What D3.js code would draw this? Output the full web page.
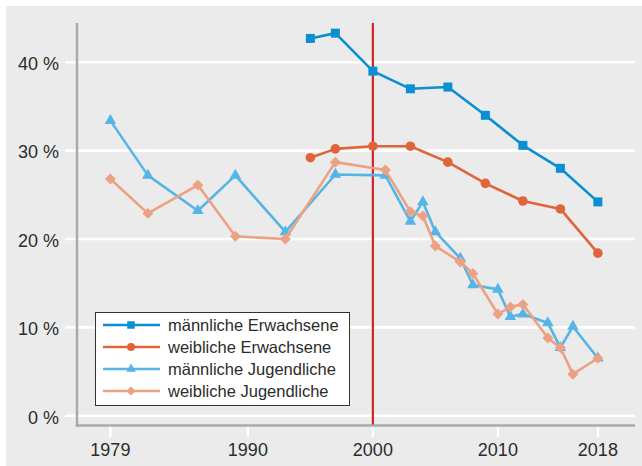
<!DOCTYPE html>
<html><head><meta charset="utf-8">
<script src="https://cdn.jsdelivr.net/npm/d3@7"></script>
<style>html,body{margin:0;padding:0;background:#fff;}svg{display:block;}</style>
</head><body>
<svg id="c" width="642" height="466"></svg>
<script>
const seriesNames = ["männliche Erwachsene","weibliche Erwachsene","männliche Jugendliche","weibliche Jugendliche"];
const adultYears = [1995,1997,2000,2003,2006,2009,2012,2015,2018];
const maleAdults = [42.7,43.3,39.0,37.0,37.2,34.0,30.6,28.0,24.2];
const femaleAdults = [29.2,30.2,30.5,30.5,28.7,26.3,24.3,23.4,18.4];
const youthYears = [1979,1982,1986,1989,1993,1997,2001,2003,2004,2005,2007,2008,2010,2011,2012,2014,2015,2016,2018];
const maleYouth = [33.4,27.2,23.2,27.2,20.8,27.3,27.2,22.0,24.2,20.8,17.8,14.8,14.3,11.2,11.5,10.5,7.7,10.1,6.5];
const femaleYouth = [26.8,22.9,26.1,20.3,20.0,28.7,27.8,23.1,22.6,19.2,17.4,16.1,11.5,12.3,12.6,8.8,7.7,4.7,6.5];
const xTicks = [1979,1990,2000,2010,2018];
const yTicks = [0,10,20,30,40];
const markerYear = 2000;

const svg = d3.select("#c");
const font = "'Liberation Sans', Arial, sans-serif";
const textColor = "#2b2b2b";

svg.append("rect").attr("x",6).attr("y",6).attr("width",636).attr("height",460).attr("fill","#ebebeb");

const x = d3.scaleLinear().domain([1976.25, 2020.75]).range([76, 632.25]);
const y = d3.scaleLinear().domain([0, 40]).range([415.7, 62.3]);
const yTop = y(44.45);
const axisY = 425.6;

// gridlines
svg.append("g").selectAll("line").data(yTicks).join("line")
  .attr("x1",65).attr("x2",635).attr("y1",d=>y(d)).attr("y2",d=>y(d))
  .attr("stroke","#fff").attr("stroke-width",2.6);

// y labels
svg.append("g").selectAll("text").data(yTicks).join("text")
  .attr("x",59).attr("y",d=>y(d)+7.8).attr("text-anchor","end")
  .attr("font-family",font).attr("font-size",18).attr("fill",textColor)
  .text(d=>d+" %");

// axes lines
svg.append("line").attr("x1",77).attr("x2",77).attr("y1",yTop).attr("y2",axisY+1.2)
  .attr("stroke","#aaaaaa").attr("stroke-width",2.5);
svg.append("line").attr("x1",75.8).attr("x2",635).attr("y1",axisY).attr("y2",axisY)
  .attr("stroke","#aaaaaa").attr("stroke-width",2.5);

// x ticks
svg.append("g").selectAll("line").data(xTicks).join("line")
  .attr("x1",d=>x(d)).attr("x2",d=>x(d)).attr("y1",axisY+1.3).attr("y2",437)
  .attr("stroke","#fff").attr("stroke-width",2.5);
svg.append("g").selectAll("text").data(xTicks).join("text")
  .attr("x",d=>x(d)).attr("y",455.5).attr("text-anchor","middle")
  .attr("font-family",font).attr("font-size",18).attr("fill",textColor)
  .text(d=>d);

// red vertical line
svg.append("line").attr("x1",x(markerYear)).attr("x2",x(markerYear)).attr("y1",yTop).attr("y2",axisY-1)
  .attr("stroke","#d2232a").attr("stroke-width",2.2);

const series = [
  {name:seriesNames[0], years:adultYears, values:maleAdults, color:"#0a8fd4", sym:d3.symbolSquare, size:81, rot:0},
  {name:seriesNames[1], years:adultYears, values:femaleAdults, color:"#e0643a", sym:d3.symbolCircle, size:72, rot:0},
  {name:seriesNames[2], years:youthYears, values:maleYouth, color:"#55b5e6", sym:d3.symbolTriangle, size:58, rot:0},
  {name:seriesNames[3], years:youthYears, values:femaleYouth, color:"#eca282", sym:d3.symbolSquare, size:60, rot:45}
];

const line = d3.line().x(d=>x(d[0])).y(d=>y(d[1]));
series.forEach(s=>{
  const pts = s.years.map((yr,i)=>[yr, s.values[i]]);
  const g = svg.append("g");
  g.append("path").attr("d",line(pts)).attr("fill","none").attr("stroke",s.color)
    .attr("stroke-width",2.6).attr("stroke-linejoin","round");
  g.selectAll("path.m").data(pts).join("path").attr("class","m")
    .attr("d",d3.symbol().type(s.sym).size(s.size))
    .attr("transform",d=>`translate(${x(d[0])},${y(d[1])}) rotate(${s.rot})`)
    .attr("fill",s.color);
});

// legend
const lg = svg.append("g");
lg.append("rect").attr("x",95.5).attr("y",312.5).attr("width",254).attr("height",93)
  .attr("fill","#fff").attr("stroke","#333").attr("stroke-width",1);
series.forEach((s,i)=>{
  const cy = 325 + i*22;
  lg.append("line").attr("x1",103).attr("x2",160).attr("y1",cy).attr("y2",cy)
    .attr("stroke",s.color).attr("stroke-width",2.6);
  lg.append("path").attr("d",d3.symbol().type(s.sym).size(s.size*0.7))
    .attr("transform",`translate(131,${cy}) rotate(${s.rot})`).attr("fill",s.color);
  lg.append("text").attr("x",168).attr("y",cy+6).attr("font-family",font).attr("font-size",16.5)
    .attr("fill",textColor).text(s.name);
});
</script>
</body></html>
